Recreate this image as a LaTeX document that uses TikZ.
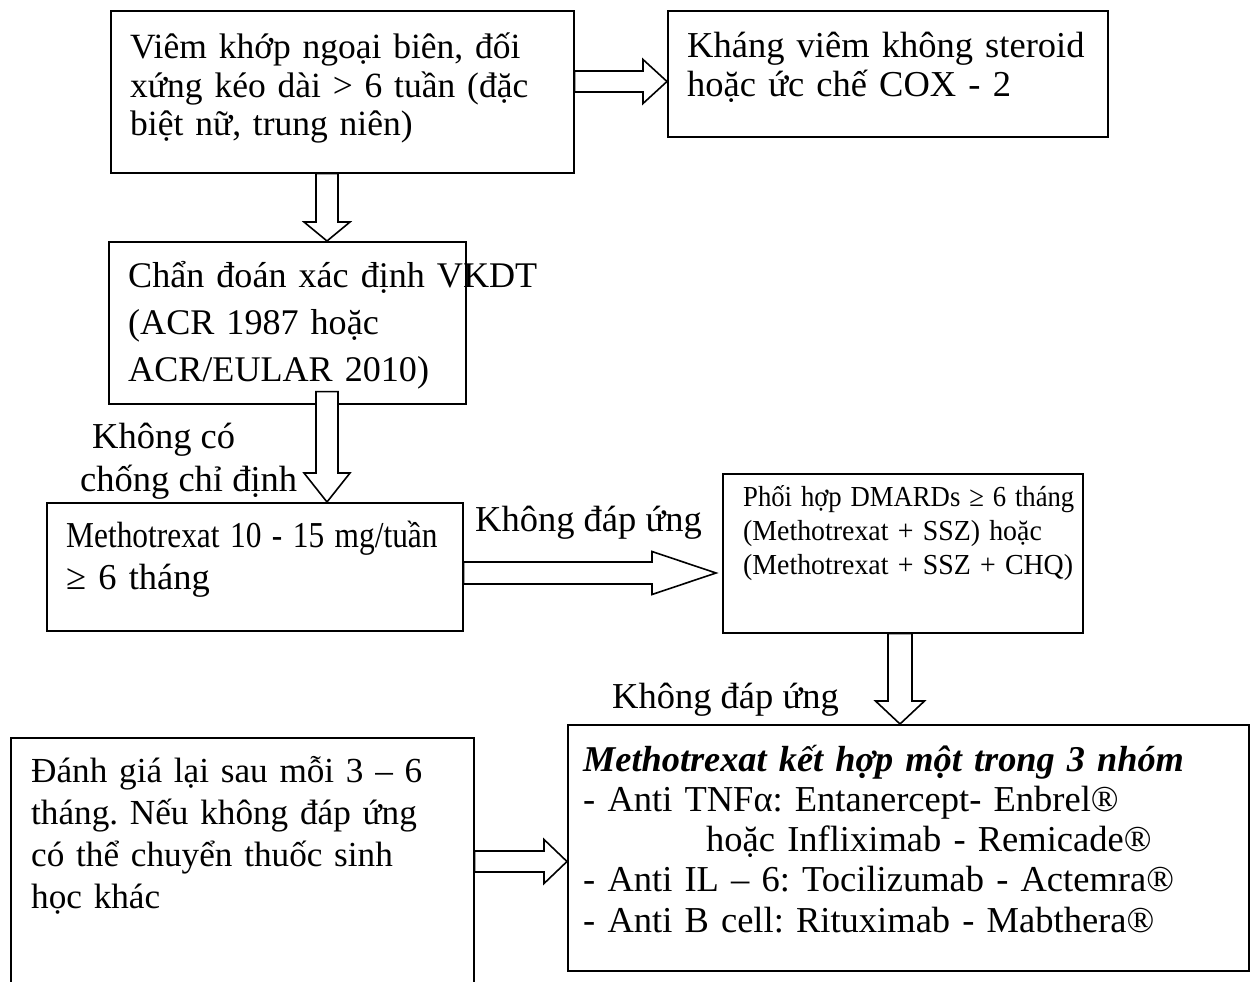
\documentclass[tikz,border=0pt]{standalone}
\usepackage{fontspec}
\usepackage{graphicx}
\setmainfont{Liberation Serif}
\usetikzlibrary{calc}
\frenchspacing

% hollow block arrows: tail point, tip point, head length, shaft half-width, head half-width
\newcommand\rightblock[5]{%
  \draw[blk] ($(#1)+(0,-#4)$) -- ($(#2)+(-#3,-#4)$) -- ($(#2)+(-#3,-#5)$)
    -- (#2) -- ($(#2)+(-#3,#5)$) -- ($(#2)+(-#3,#4)$) -- ($(#1)+(0,#4)$) -- cycle;}
\newcommand\downblock[5]{%
  \draw[blk] ($(#1)+(-#4,0)$) -- ($(#2)+(-#4,-#3)$) -- ($(#2)+(-#5,-#3)$)
    -- (#2) -- ($(#2)+(#5,-#3)$) -- ($(#2)+(#4,-#3)$) -- ($(#1)+(#4,0)$) -- cycle;}

\tikzset{
  box/.style={draw, line width=1.6pt, inner sep=0pt, anchor=north west},
  txt/.style={inner sep=0pt, anchor=base west, align=left},
  blk/.style={draw, fill=white, line width=1.6pt, line join=miter},
  big/.style={font=\fontsize{36.5}{39}\selectfont},
}

\begin{document}
\begin{tikzpicture}[x=1pt, y=-1pt]
\useasboundingbox (0,0) rectangle (1251,982);

% boxes
\node[box, minimum width=463, minimum height=162] (b1) at (110,10) {};
\node[box, minimum width=440, minimum height=126] (b2) at (667,10) {};
\node[box, minimum width=357, minimum height=162] (b3) at (108,241) {};
\node[box, minimum width=416, minimum height=128] (b4) at (46,502) {};
\node[box, minimum width=360, minimum height=159] (b5) at (722,473) {};
\node[box, minimum width=681, minimum height=246] (b6) at (567,724) {};
\node[box, minimum width=463, minimum height=280] (b7) at (10,737) {};

% arrow end points
\coordinate (a1t) at (b1.east |- 0,81.5);
\coordinate (a1h) at (b2.west |- 0,81.5);
\coordinate (a2t) at (327,0 |- b1.south);
\coordinate (a2h) at (327,0 |- b3.north);
\coordinate (a3t) at ($(327,0 |- b3.south)+(0,-13)$);
\coordinate (a3h) at (327,0 |- b4.north);
\coordinate (a4t) at (b4.east |- 0,573);
\coordinate (a4h) at ($(b5.west |- 0,573)+(-6,0)$);
\coordinate (a5t) at (900,0 |- b5.south);
\coordinate (a5h) at (900,0 |- b6.north);
\coordinate (a6t) at (b7.east |- 0,861.5);
\coordinate (a6h) at (b6.west |- 0,861.5);

\rightblock{a1t}{a1h}{24}{10.5}{22}
\downblock{a2t}{a2h}{19}{11}{23}
\downblock{a3t}{a3h}{29}{11}{23}
\rightblock{a4t}{a4h}{64}{11}{21.5}
\downblock{a5t}{a5h}{23}{12}{24.5}
\rightblock{a6t}{a6h}{23}{10.5}{22}

% box texts
\node[txt, text width=427, font=\fontsize{35.5}{38.5}\selectfont] (t1) at (130,59)
  {\makebox[427pt][s]{Viêm khớp ngoại biên, đối}\\
   \makebox[427pt][s]{xứng kéo dài > 6 tuần (đặc}\\
   biệt nữ, trung niên)};
\node[txt, text width=420, font=\fontsize{36.5}{39}\selectfont] (t2) at (687,58)
  {Kháng viêm không steroid\\ hoặc ức chế COX - 2};
\node[txt, text width=420, font=\fontsize{36.1}{47}\selectfont] (t3) at (128,287)
  {Chẩn đoán xác định VKDT\\ (ACR 1987 hoặc\\ ACR/EULAR 2010)};
\node[txt, text width=400, font=\fontsize{36.5}{42}\selectfont] (t4) at (66,547)
  {\scalebox{0.86}[1]{Methotrexat 10 - 15 mg/tuần}\\ ≥ 6 tháng};
\node[txt, text width=350, font=\fontsize{29}{34}\selectfont] (t5) at (743,506)
  {\scalebox{0.92}[1]{Phối hợp DMARDs ≥ 6 tháng}\\
   \scalebox{0.96}[1]{(Methotrexat + SSZ) hoặc}\\
   \scalebox{0.96}[1]{(Methotrexat + SSZ + CHQ)}};
\node[txt, text width=670, font=\fontsize{36.5}{40.3}\selectfont] (t6) at (583,771)
  {{\fontsize{36.3}{40.3}\selectfont\bfseries\itshape Methotrexat kết hợp một trong 3 nhóm}\\
   - Anti TNFα: Entanercept- Enbrel®\\
   \hspace*{123pt}hoặc Infliximab - Remicade®\\
   - Anti IL – 6: Tocilizumab - Actemra®\\
   - Anti B cell: Rituximab - Mabthera®};
\node[txt, text width=440, font=\fontsize{35.2}{42.3}\selectfont] (t7) at (31,782)
  {Đánh giá lại sau mỗi 3 – 6\\ tháng. Nếu không đáp ứng\\ có thể chuyển thuốc sinh\\ học khác};

% labels beside arrows
\node[txt, big] (l1) at (92,448) {Không có};
\node[txt, big] (l2) at (80,491) {chống chỉ định};
\node[txt, big] (l3) at (475,531) {Không đáp ứng};
\node[txt, big] (l4) at (612,708) {Không đáp ứng};
\end{tikzpicture}
\end{document}
